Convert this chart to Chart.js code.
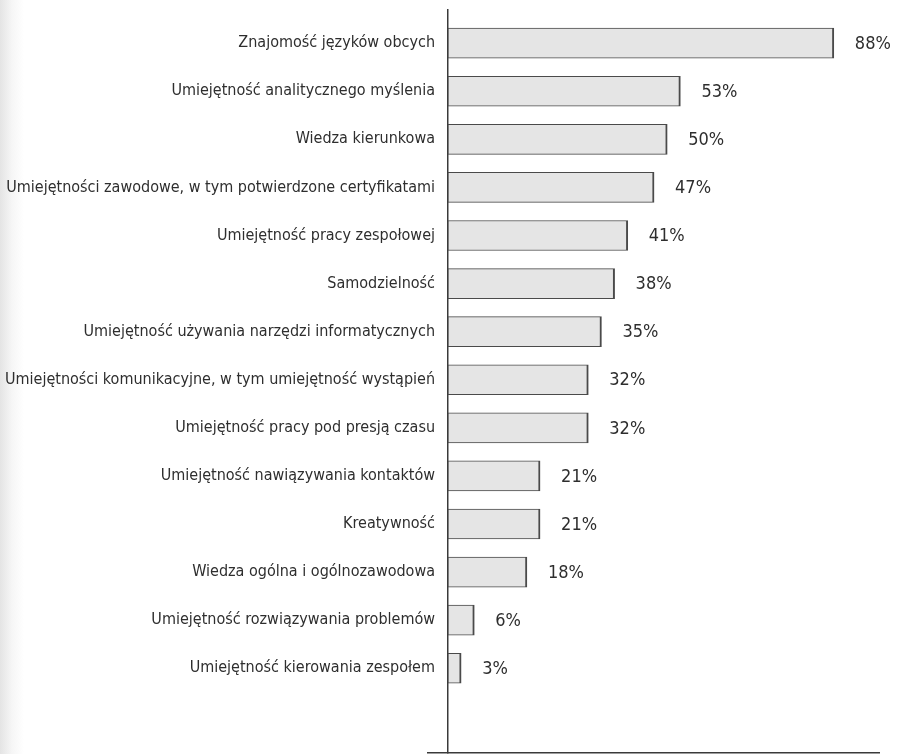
<!DOCTYPE html>
<html>
<head>
<meta charset="utf-8">
<script src="https://cdn.jsdelivr.net/npm/chart.js@4/dist/chart.umd.min.js"></script>
<style>
  html, body { margin: 0; padding: 0; }
  body { background: linear-gradient(to right, #e4e4e4 0px, #f6f6f6 12px, #ffffff 24px); }
  canvas { display: block; }
</style>
</head>
<body>
<canvas id="skillsChart" width="898" height="754"></canvas>
<script>
// Skills and the share of answers (%)
const skills = [
    'Znajomość języków obcych',
    'Umiejętność analitycznego myślenia',
    'Wiedza kierunkowa',
    'Umiejętności zawodowe, w tym potwierdzone certyfikatami',
    'Umiejętność pracy zespołowej',
    'Samodzielność',
    'Umiejętność używania narzędzi informatycznych',
    'Umiejętności komunikacyjne, w tym umiejętność wystąpień',
    'Umiejętność pracy pod presją czasu',
    'Umiejętność nawiązywania kontaktów',
    'Kreatywność',
    'Wiedza ogólna i ogólnozawodowa',
    'Umiejętność rozwiązywania problemów',
    'Umiejętność kierowania zespołem'
];
const shares = [88, 53, 50, 47, 41, 38, 35, 32, 32, 21, 21, 18, 6, 3];

const fontFamily = "'Liberation Sans Narrow', 'DejaVu Sans Condensed', sans-serif";
const ink = '#2e2e2e';
const axisColor = '#3a3a3a';

// index range of the vertical axis (a bit of room above the first bar, more below the last)
const yMin = -0.69;
const yMax = 14.75;

// percentage text next to each bar
const valueLabels = {
    id: 'valueLabels',
    afterDatasetsDraw(chart) {
        const ctx = chart.ctx;
        const meta = chart.getDatasetMeta(0);
        ctx.save();
        ctx.font = '18px ' + fontFamily;
        ctx.fillStyle = ink;
        ctx.textAlign = 'left';
        ctx.textBaseline = 'middle';
        meta.data.forEach((bar, i) => {
            ctx.fillText(shares[i] + '%', bar.x + 21, bar.y + 1);
        });
        ctx.restore();
    }
};

new Chart(document.getElementById('skillsChart'), {
    type: 'bar',
    data: {
        datasets: [{
            data: shares.map((v, i) => ({ x: v, y: i })),
            backgroundColor: '#e5e5e5',
            borderColor: '#4a4a4a',
            borderWidth: { top: 1, right: 2, bottom: 1, left: 1 },
            borderSkipped: false,
            barThickness: 30
        }]
    },
    options: {
        indexAxis: 'y',
        responsive: false,
        animation: false,
        layout: { padding: { left: 2, right: 19, top: 10, bottom: 1 } },
        plugins: {
            legend: { display: false },
            tooltip: { enabled: false }
        },
        scales: {
            x: {
                type: 'linear',
                min: 0,
                max: 98.3,
                grid: { display: false, drawTicks: false },
                border: { display: true, color: axisColor, width: 1.5 },
                ticks: { display: false }
            },
            y: {
                type: 'linear',
                position: 'left',
                reverse: true,
                offset: false,
                min: yMin,
                max: yMax,
                afterBuildTicks: scale => {
                    scale.ticks = skills.map((_, i) => ({ value: i })).concat([{ value: yMax }]);
                },
                // long labels: keep the full width instead of the default half-chart cap
                afterFit: scale => {
                    scale.width = 446;
                },
                // only the bottom tick is visible: it carries the base line past the axis
                grid: {
                    display: true,
                    offset: false,
                    drawOnChartArea: false,
                    drawTicks: true,
                    tickLength: 21,
                    lineWidth: 1.5,
                    color: c => (c.tick && c.tick.value === yMax) ? axisColor : 'rgba(0,0,0,0)'
                },
                border: { display: true, color: axisColor, width: 1.5 },
                ticks: {
                    padding: -8,
                    color: ink,
                    font: { family: fontFamily, size: 16 },
                    callback: value => skills[value] || ''
                }
            }
        }
    },
    plugins: [valueLabels]
});
</script>
</body>
</html>
